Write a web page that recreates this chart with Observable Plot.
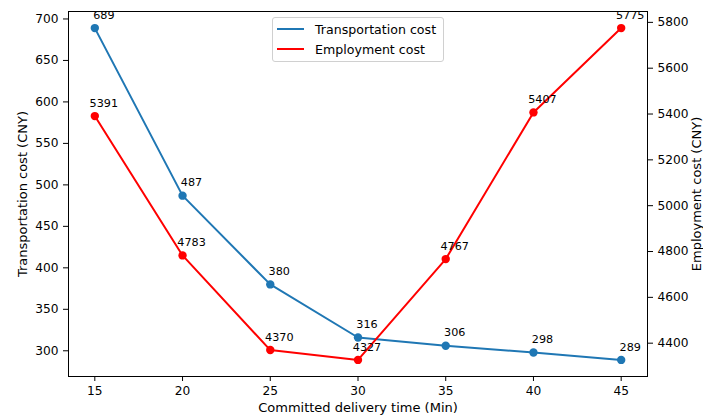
<!DOCTYPE html>
<html>
<head>
<meta charset="utf-8">
<script src="https://cdn.jsdelivr.net/npm/d3@7"></script>
<script src="https://cdn.jsdelivr.net/npm/@observablehq/plot@0.6"></script>
<style>
  body { margin: 0; background: white; font-family: "DejaVu Sans", sans-serif; }
  #wrap { position: relative; width: 703px; height: 416px; }
  #legend { position: absolute; left: 272px; top: 17px; width: 170px; height: 43px;
    border: 1px solid #d0d0d0; border-radius: 3px; background: rgba(255,255,255,0.85);
    font-size: 12.6px; color: #000; }
  .row { position: absolute; left: 0; height: 16px; display: flex; align-items: center; }
  .sw { width: 27px; height: 0; border-top: 2px solid; margin-left: 4px; margin-right: 11px; }
</style>
</head>
<body>
<div id="wrap">
  <div id="chart"></div>
  <div id="legend">
    <div class="row" style="top:3px"><div class="sw" style="border-color:#1f77b4"></div><span>Transportation cost</span></div>
    <div class="row" style="top:23px"><div class="sw" style="border-color:#ff0000"></div><span>Employment cost</span></div>
  </div>
</div>
<script>
const times = [15, 20, 25, 30, 35, 40, 45];
const transport = [689, 487, 380, 316, 306, 298, 289];
const employment = [5391, 4783, 4370, 4327, 4767, 5407, 5775];
const xTicks = [15, 20, 25, 30, 35, 40, 45];
const leftTicks = [300, 350, 400, 450, 500, 550, 600, 650, 700];
const rightTicks = [4400, 4600, 4800, 5000, 5200, 5400, 5600, 5800];
const xLabel = "Committed delivery time (Min)";
const yLeftLabel = "Transportation cost (CNY)";
const yRightLabel = "Employment cost (CNY)";

function padded(arr) {
  const lo = d3.min(arr), hi = d3.max(arr), m = (hi - lo) * 0.05;
  return [lo - m, hi + m];
}
const [L0, L1] = padded(transport);
const [R0, R1] = padded(employment);
const toLeft = v => L0 + (v - R0) * (L1 - L0) / (R1 - R0);
const fromLeft = v => R0 + (v - L0) * (R1 - R0) / (L1 - L0);
const [X0, X1] = padded(times);

const tData = times.map((t, i) => ({t, v: transport[i]}));
const eData = times.map((t, i) => ({t, v: employment[i], y: toLeft(employment[i])}));

const chart = Plot.plot({
  width: 703, height: 416,
  marginLeft: 68, marginRight: 56, marginTop: 11, marginBottom: 40,
  style: {fontFamily: "DejaVu Sans", fontSize: "12.2px", color: "black", background: "white"},
  x: {domain: [X0, X1]},
  y: {domain: [L0, L1]},
  marks: [
    Plot.line(tData, {x: "t", y: "v", stroke: "#1f77b4", strokeWidth: 2}),
    Plot.dot(tData, {x: "t", y: "v", r: 4.2, fill: "#1f77b4", stroke: "none"}),
    Plot.line(eData, {x: "t", y: "y", stroke: "#ff0000", strokeWidth: 2}),
    Plot.dot(eData, {x: "t", y: "y", r: 4.2, fill: "#ff0000", stroke: "none"}),
    Plot.text(tData, {x: "t", y: "v", text: d => String(d.v), dy: -13, dx: 9, fontSize: 11.2, fill: "black"}),
    Plot.text(eData, {x: "t", y: "y", text: d => String(d.v), dy: -13, dx: 9, fontSize: 11.2, fill: "black"}),
    Plot.frame({stroke: "black", strokeWidth: 1}),
    Plot.axisX({ticks: xTicks, tickSize: 5, tickPadding: 5, label: null}),
    Plot.axisY({ticks: leftTicks, tickSize: 5, tickPadding: 5, label: null}),
    Plot.axisY(rightTicks.map(toLeft), {anchor: "right", tickSize: 5, tickPadding: 5, tickFormat: d => String(Math.round(fromLeft(d))), label: null}),
    Plot.text([xLabel], {frameAnchor: "bottom", dy: 31, text: d => d, fontSize: 13, fill: "black", textAnchor: "middle", lineAnchor: "middle"}),
    Plot.text([yLeftLabel], {frameAnchor: "left", dx: -46, rotate: -90, text: d => d, fontSize: 13, fill: "black", textAnchor: "middle", lineAnchor: "middle"}),
    Plot.text([yRightLabel], {frameAnchor: "right", dx: 49, rotate: -90, text: d => d, fontSize: 13, fill: "black", textAnchor: "middle", lineAnchor: "middle"})
  ]
});
document.getElementById("chart").appendChild(chart);
</script>
</body>
</html>
